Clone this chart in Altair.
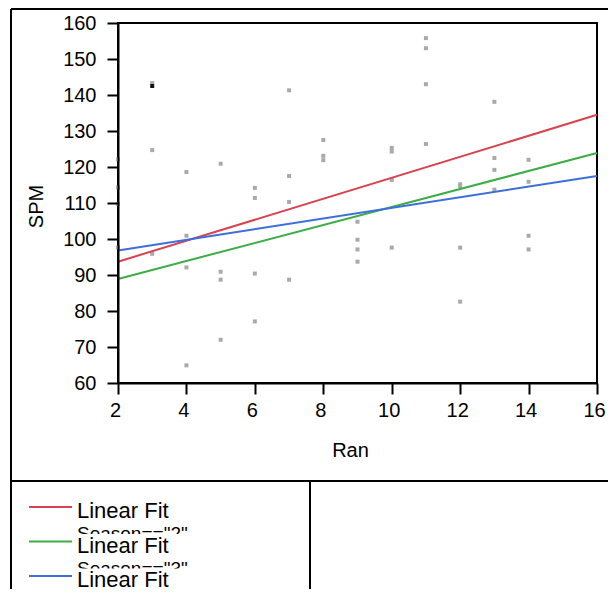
import altair as alt
import pandas as pd

# ---- data ----
ran = [2, 2, 2, 2,
       3, 3, 3,
       4, 4, 4, 4,
       5, 5, 5, 5,
       6, 6, 6, 6,
       7, 7, 7, 7,
       8, 8, 8,
       9, 9, 9, 9,
       10, 10, 10, 10,
       11, 11, 11, 11,
       12, 12, 12, 12,
       13, 13, 13, 13,
       14, 14, 14, 14]
spm = [122.1, 114.3, 109.7, 97.7,
       143.3, 124.7, 95.9,
       118.6, 100.9, 92.1, 64.9,
       120.9, 90.9, 88.7, 72.0,
       114.2, 111.4, 90.4, 77.1,
       141.3, 117.5, 110.3, 88.7,
       127.5, 123.1, 121.9,
       104.8, 99.8, 97.1, 93.7,
       125.3, 124.3, 116.4, 97.6,
       155.8, 153.0, 143.0, 126.4,
       115.2, 114.7, 97.6, 82.6,
       138.1, 122.5, 119.2, 113.7,
       122.0, 115.9, 100.9, 97.1]
# highlighted (dark) point
dark_ran = [3]
dark_spm = [142.5]

# fitted lines (end points at x = 2 and x = 16)
fit_x = [2, 16]
fit_season2 = [93.7, 134.5]
fit_season3 = [88.9, 123.9]
fit_season4 = [96.8, 117.5]
series_names = ['Season=="2"', 'Season=="3"', 'Season=="4"']
series_colors = ["#d9434f", "#3cae45", "#3d6fdb"]
fit_label = "Linear Fit"

x_ticks = [2, 4, 6, 8, 10, 12, 14, 16]
y_ticks = [60, 70, 80, 90, 100, 110, 120, 130, 140, 150, 160]

FONT = "Liberation Sans"

pts = pd.DataFrame({"ran": ran, "spm": spm})
dark = pd.DataFrame({"ran": dark_ran, "spm": dark_spm})
fits = pd.DataFrame({
    "ran": fit_x * 3,
    "spm": fit_season2 + fit_season3 + fit_season4,
    "series": [series_names[0]] * 2 + [series_names[1]] * 2 + [series_names[2]] * 2,
})
dummy = pd.DataFrame({"d": [0]})

xscale = alt.Scale(domain=[2, 16], nice=False, zero=False)
yscale = alt.Scale(domain=[60, 160], nice=False, zero=False)

xaxis = alt.Axis(values=x_ticks, tickCount=8, title="Ran", titleX=232, titleY=67,
                 titleBaseline="middle", titleAlign="center",
                 labelOffset=-3, labelPadding=6, zindex=1,
                 labelOverlap=False, labelFlush=False)
yaxis = alt.Axis(values=y_ticks, tickCount=11, title="SPM", titleX=-82, titleY=183,
                 titleAngle=270, titleBaseline="middle", titleAlign="center",
                 labelPadding=11, zindex=1, labelOverlap=False, labelFlush=False)

X = alt.X("ran:Q", scale=xscale, axis=xaxis)
Y = alt.Y("spm:Q", scale=yscale, axis=yaxis)

points = alt.Chart(pts).mark_square(size=16, color="#a9a9a9", opacity=1).encode(x=X, y=Y)
dark_pt = alt.Chart(dark).mark_square(size=16, color="#111111", opacity=1).encode(x=X, y=Y)

lines = alt.Chart(fits).mark_line(strokeWidth=2).encode(
    x=X, y=Y,
    color=alt.Color("series:N", scale=alt.Scale(domain=series_names, range=series_colors),
                    legend=None),
    detail="series:N",
)

layers = [points, dark_pt, lines]

# ---- legend block (each entry overlaps the previous one, as in the reference) ----
step = 34.5
for i, (name, col) in enumerate(zip(series_names, series_colors)):
    base_y = 495 + i * step  # baseline of "Linear Fit"
    if i > 0:
        layers.append(alt.Chart(dummy).mark_rect(color="white").encode(
            x=alt.value(-106), x2=alt.value(191),
            y=alt.value(base_y - 18.5), y2=alt.value(base_y + 60)))
    layers.append(alt.Chart(dummy).mark_rule(color=col, strokeWidth=2).encode(
        x=alt.value(-89), x2=alt.value(-46), y=alt.value(base_y - 11)))
    layers.append(alt.Chart(dummy).mark_text(
        align="left", baseline="alphabetic", font=FONT, fontSize=22, color="black").encode(
        x=alt.value(-41), y=alt.value(base_y), text=alt.value(fit_label)))
    layers.append(alt.Chart(dummy).mark_text(
        align="left", baseline="alphabetic", font=FONT, fontSize=19, color="black").encode(
        x=alt.value(-41), y=alt.value(base_y + 22), text=alt.value(name)))

# ---- frame lines ----
for x1, x2, yv in [(-107, 490, -14), (-107, 490, 458)]:
    layers.append(alt.Chart(dummy).mark_rule(color="black", strokeWidth=2).encode(
        x=alt.value(x1), x2=alt.value(x2), y=alt.value(yv)))
for xv, y1, y2 in [(-107, -14, 566), (192, 458, 566)]:
    layers.append(alt.Chart(dummy).mark_rule(color="black", strokeWidth=2).encode(
        x=alt.value(xv), y=alt.value(y1), y2=alt.value(y2)))

chart = alt.layer(*layers).properties(
    width=479, height=360,
    padding={"left": 110, "top": 15, "right": 11, "bottom": 206},
    autosize=alt.AutoSizeParams(type="none"),
    background="white",
).configure_view(stroke="black", strokeWidth=2).configure_axis(
    labelFont=FONT, labelFontSize=20, labelColor="black",
    titleFont=FONT, titleFontSize=20, titleColor="black", titleFontWeight="normal",
    tickColor="black", tickSize=11, tickWidth=2,
    domainColor="black", domainWidth=2, grid=False,
)

chart.save("out.html", embed_options={"renderer": "svg", "actions": False})
